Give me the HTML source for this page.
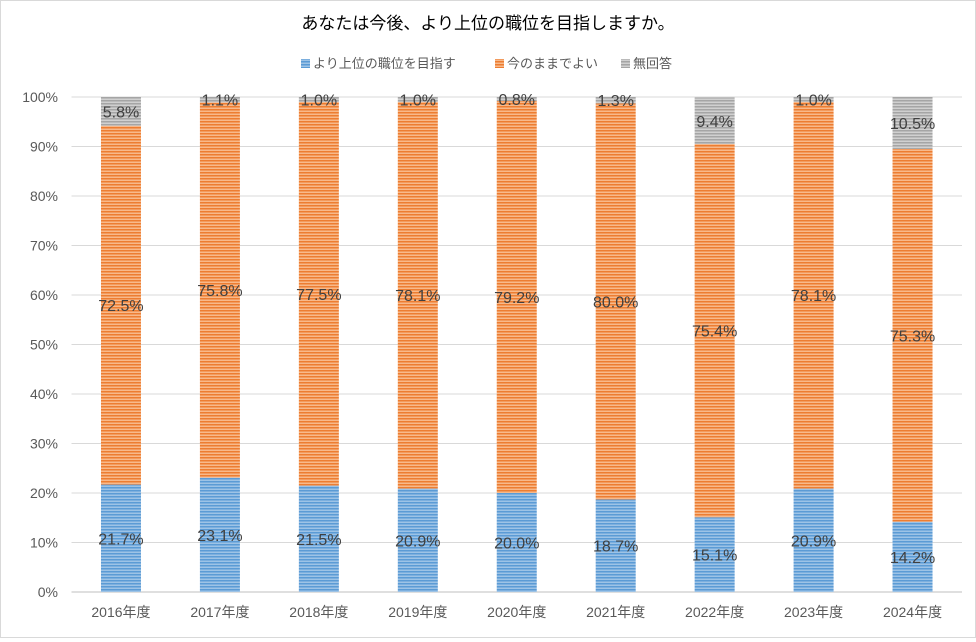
<!DOCTYPE html>
<html><head><meta charset="utf-8"><style>
body{margin:0;background:#fff;font-family:"Liberation Sans","Noto Sans CJK JP",sans-serif}
#wrap{position:relative;width:974px;height:636px;border:1px solid #d9d9d9}
</style></head><body>
<div id="wrap">
<svg id="chart" width="974" height="636"
 font-family="Liberation Sans, Noto Sans CJK JP, sans-serif">
<defs>
<pattern id="pb" width="4" height="3" patternUnits="userSpaceOnUse"><rect width="4" height="3" fill="#9dc3e6"/><rect width="4" height="1.5" fill="#5b9bd5"/></pattern>
<pattern id="po" width="4" height="3" patternUnits="userSpaceOnUse"><rect width="4" height="3" fill="#f8b98a"/><rect width="4" height="1.5" fill="#ed7d31"/></pattern>
<pattern id="pg" width="4" height="3" patternUnits="userSpaceOnUse"><rect width="4" height="3" fill="#d0d0d0"/><rect width="4" height="1.5" fill="#a5a5a5"/></pattern>
</defs>
<text x="487" y="28" text-anchor="middle" font-size="17" fill="#000">あなたは今後、より上位の職位を目指しますか。</text>
<g id="legend" font-size="13" fill="#595959">
<rect x="300" y="58" width="9" height="9" fill="url(#pb)"/>
<text x="312" y="67">より上位の職位を目指す</text>
<rect x="494" y="58" width="9" height="9" fill="url(#po)"/>
<text x="506" y="67">今のままでよい</text>
<rect x="620" y="58" width="9" height="9" fill="url(#pg)"/>
<text x="632" y="67">無回答</text>
</g>
<g id="grid"></g><g id="bars"></g><g id="labels"></g><g id="axes"></g>
</svg>
</div>
<script>
const categories=["2016年度","2017年度","2018年度","2019年度","2020年度","2021年度","2022年度","2023年度","2024年度"];
const aim=[21.7,23.1,21.5,20.9,20.0,18.7,15.1,20.9,14.2];
const stay=[72.5,75.8,77.5,78.1,79.2,80.0,75.4,78.1,75.3];
const noAnswer=[5.8,1.1,1.0,1.0,0.8,1.3,9.4,1.0,10.5];
const yTicks=[0,10,20,30,40,50,60,70,80,90,100];
const NS="http://www.w3.org/2000/svg";
const L=70.5,R=961,T=96,B=591;
const y=v=>B-(v/100)*(B-T);
const bw=(R-L)/categories.length;
const xc=i=>L+bw*(i+0.5);
function mk(t,a,p){const e=document.createElementNS(NS,t);for(const k in a)e.setAttribute(k,a[k]);p.appendChild(e);return e;}
const g=document.getElementById('grid'),ax=document.getElementById('axes'),bars=document.getElementById('bars'),lab=document.getElementById('labels');
yTicks.forEach(v=>{
 const l=mk('line',{x1:L,x2:R,y1:y(v),y2:y(v),stroke:v===0?'#bfbfbf':'#d9d9d9','stroke-width':1},g);
 
 
 const t=mk('text',{x:57,y:y(v)+5,'text-anchor':'end','font-size':14,fill:'#595959'},ax);
 t.textContent=v+'%';
 
 
});
const series=[[aim,'url(#pb)','aim'],[stay,'url(#po)','stay'],[noAnswer,'url(#pg)','noanswer']];
categories.forEach((c,i)=>{
 let base=0;
 series.forEach(([arr,fill,nm])=>{
  const v=arr[i];
  const r=mk('rect',{x:xc(i)-20,y:y(base+v),width:40,height:y(base)-y(base+v),fill:fill},bars);
  
  
  const t=mk('text',{x:xc(i),y:y(base+v/2)+6,'text-anchor':'middle','font-size':16,fill:'#404040'},lab);
  t.textContent=v.toFixed(1)+'%';
  
  
  base+=v;
 });
 const t=mk('text',{x:xc(i),y:616,'text-anchor':'middle','font-size':14,fill:'#595959'},ax);
 t.textContent=c;
 
 
});
</script>
</body></html>
